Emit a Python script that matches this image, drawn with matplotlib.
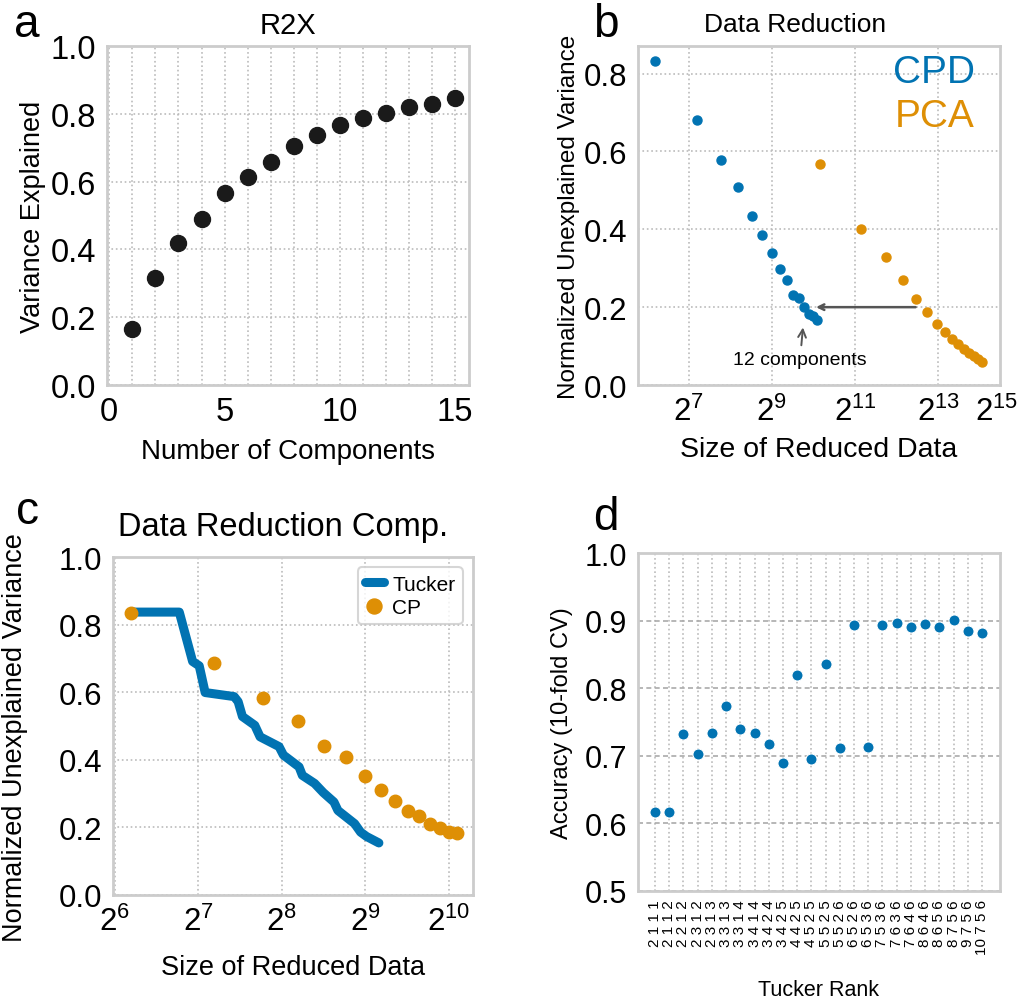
import matplotlib
matplotlib.use('Agg')
import matplotlib.pyplot as plt
import numpy as np

plt.rcParams['font.family'] = ['Liberation Sans', 'DejaVu Sans']
plt.rcParams['mathtext.fontset'] = 'custom'
plt.rcParams['mathtext.rm'] = 'Liberation Sans'
plt.rcParams['mathtext.it'] = 'Liberation Sans:italic'

BLUE = '#0173b2'
ORANGE = '#de8f05'
FRAME = '#cccccc'
GRID = '#bbbbbb'

# panel a: R2X
n_components = list(range(1, 16))
r2x = [0.166, 0.315, 0.419, 0.489, 0.565, 0.614, 0.659, 0.705,
       0.738, 0.767, 0.789, 0.801, 0.819, 0.828, 0.846]

# panel b: data reduction
cpd_size = [73, 146, 219, 292, 365, 438, 511, 584, 657, 730, 803, 876, 949, 1022, 1095]
cpd_unexp = [0.832, 0.682, 0.579, 0.509, 0.433, 0.385, 0.338, 0.298,
             0.269, 0.231, 0.224, 0.200, 0.183, 0.178, 0.166]
pca_size = [1142, 2284, 3426, 4568, 5710, 6852, 7994, 9136,
            10278, 11420, 12562, 13704, 14846, 15988, 17130]
pca_unexp = [0.568, 0.402, 0.329, 0.270, 0.221, 0.188, 0.158, 0.136,
             0.118, 0.106, 0.093, 0.083, 0.075, 0.066, 0.058]

# panel c: tucker vs cp
tucker_size = [73.3, 109.4, 122.2, 129.1, 135.6, 172.5, 178.3, 184.8, 204.7, 213.9,
               250.4, 259.6, 295.6, 303.8, 336.4, 361.5, 394.9, 408.2, 429.0,
               468.8, 492.6, 517.8, 573.4]
tucker_unexp = [0.837, 0.837, 0.691, 0.678, 0.599, 0.587, 0.572, 0.528, 0.502, 0.468,
                0.439, 0.414, 0.379, 0.354, 0.330, 0.303, 0.275, 0.250, 0.236,
                0.211, 0.186, 0.173, 0.154]
cp_size = [73, 146, 219, 292, 365, 438, 511, 584, 657, 730, 803, 876, 949, 1022, 1095]
cp_unexp = [0.835, 0.686, 0.583, 0.514, 0.440, 0.407, 0.352, 0.310,
            0.277, 0.248, 0.235, 0.209, 0.198, 0.186, 0.183]

# panel d: tucker rank accuracy
tucker_ranks = ['2 1 1 1', '2 1 1 2', '2 2 1 2', '2 3 1 2', '2 3 1 3', '3 3 1 3',
                '3 3 1 4', '3 4 1 4', '3 4 2 4', '3 4 2 5', '4 4 2 5', '4 5 2 5',
                '5 5 2 5', '5 5 2 6', '6 5 2 6', '6 5 3 6', '7 5 3 6', '7 6 3 6',
                '7 6 4 6', '8 6 4 6', '8 6 5 6', '8 7 5 6', '9 7 5 6', '10 7 5 6']
accuracy = [0.617, 0.617, 0.732, 0.702, 0.734, 0.773, 0.740, 0.733, 0.717, 0.690,
            0.819, 0.696, 0.836, 0.711, 0.894, 0.713, 0.894, 0.896, 0.890, 0.895,
            0.890, 0.901, 0.884, 0.882]

W, H = 1020, 1004
fig = plt.figure(figsize=(W / 100, H / 100), dpi=100)


def box(l, r, t, b):
    return [l / W, 1 - b / H, (r - l) / W, (b - t) / H]


def style(ax, size=22.5):
    for s in ax.spines.values():
        s.set_color(FRAME)
        s.set_linewidth(2)
    ax.tick_params(length=0, labelsize=size, pad=8)
    ax.set_axisbelow(True)


def p2(e):
    return r'$\mathregular{2^{%d}}$' % e


fmt = matplotlib.ticker.FormatStrFormatter('%.1f')

# ---- a
ax = fig.add_axes(box(107, 469, 47, 386))
style(ax, 23.5)
ax.plot(n_components, r2x, 'o', color='#1a1a1a', ms=11.5)
ax.set_xlim(-0.1, 15.6)
ax.set_ylim(0, 1)
ax.set_xticks([0, 5, 10, 15])
ax.set_xticks(range(1, 16), minor=True)
ax.tick_params(which='minor', length=0)
ax.set_yticks(np.arange(0, 1.01, 0.2))
ax.yaxis.set_major_formatter(fmt)
ax.grid(True, which='both', axis='x', linestyle=':', color=GRID, lw=1.2)
ax.grid(True, axis='y', linestyle=':', color=GRID, lw=1.2)
ax.set_title('R2X', fontsize=21, pad=9)
ax.set_xlabel('Number of Components', fontsize=20, labelpad=8)
ax.set_ylabel('Variance Explained', fontsize=19.5, labelpad=3)

# ---- b
ax = fig.add_axes(box(638, 1000, 47, 386))
style(ax)
ax.set_xscale('log', base=2)
ax.plot(cpd_size, cpd_unexp, 'o', color=BLUE, ms=6.5)
ax.plot(pca_size, pca_unexp, 'o', color=ORANGE, ms=6.5)
ax.set_xlim(2 ** 5.78, 2 ** 14.49)
ax.set_ylim(0, 0.871)
ax.set_xticks([2 ** 7, 2 ** 9, 2 ** 11, 2 ** 13, 2 ** 14.41])
ax.set_xticklabels([p2(7), p2(9), p2(11), p2(13), p2(15)])
ax.xaxis.set_minor_locator(matplotlib.ticker.NullLocator())
ax.set_yticks(np.arange(0, 0.81, 0.2))
ax.yaxis.set_major_formatter(fmt)
ax.grid(True, linestyle=':', color=GRID, lw=1.2)
ax.xaxis.get_gridlines()[-1].set_visible(False)
ax.set_title('Data Reduction', fontsize=19, pad=11, x=0.434)
ax.set_xlabel('Size of Reduced Data', fontsize=20.5, labelpad=6)
ax.set_ylabel('Normalized Unexplained Variance', fontsize=17.5, labelpad=2)
ax.text(0.93, 0.923, 'CPD', color=BLUE, fontsize=28, ha='right', va='center',
        transform=ax.transAxes)
ax.text(0.93, 0.793, 'PCA', color=ORANGE, fontsize=28, ha='right', va='center',
        transform=ax.transAxes)
ax.annotate('', xy=(1021, 0.2), xytext=(5900, 0.2),
            arrowprops=dict(arrowstyle='->', color='#555555', lw=1.8))
ax.annotate('12 components', xy=(864, 0.155), xytext=(820, 0.066),
            ha='center', va='center', fontsize=14,
            arrowprops=dict(arrowstyle='->', color='#555555', lw=1.4))

# ---- c
ax = fig.add_axes(box(113, 473, 558, 896))
style(ax)
ax.set_xscale('log', base=2)
ax.plot(tucker_size, tucker_unexp, '-', color=BLUE, lw=6.5, label='Tucker',
        solid_joinstyle='round', solid_capstyle='round')
ax.plot(cp_size, cp_unexp, 'o', color=ORANGE, ms=9, label='CP')
ax.set_xlim(2 ** 5.98, 2 ** 10.29)
ax.set_ylim(0, 1)
ax.set_xticks([2 ** k for k in range(6, 11)])
ax.set_xticklabels([p2(k) for k in range(6, 11)])
ax.xaxis.set_minor_locator(matplotlib.ticker.NullLocator())
ax.set_yticks(np.arange(0, 1.01, 0.2))
ax.yaxis.set_major_formatter(fmt)
ax.grid(True, linestyle=':', color=GRID, lw=1.2)
ax.set_title('Data Reduction Comp.', fontsize=23.5, pad=16, x=0.472)
ax.set_xlabel('Size of Reduced Data', fontsize=19.5, labelpad=12)
ax.set_ylabel('Normalized Unexplained Variance', fontsize=19.5)
ax.yaxis.set_label_coords(-0.235, 0.47)
leg = ax.legend(loc='upper right', fontsize=15, handlelength=0.9, handletextpad=0.4,
                borderpad=0.35, labelspacing=0.2, borderaxespad=0.5, fancybox=True,
                markerscale=1.2)
leg.get_frame().set_edgecolor(FRAME)
leg.get_frame().set_linewidth(1.5)

# ---- d
ax = fig.add_axes(box(638, 1000, 554, 892))
style(ax, 22)
xpos = np.arange(len(tucker_ranks))
ax.plot(xpos, accuracy, 'o', color=BLUE, ms=8, mec='white', mew=0.8)
ax.set_xlim(-1.2, 24.27)
ax.set_ylim(0.5, 1.0)
ax.set_xticks(xpos)
ax.set_xticklabels(tucker_ranks, rotation=90, fontsize=11)
ax.tick_params(axis='x', pad=6)
ax.set_yticks(np.arange(0.5, 1.01, 0.1))
ax.yaxis.set_major_formatter(fmt)
ax.grid(True, axis='x', linestyle=':', color=GRID, lw=1.2)
ax.grid(True, axis='y', linestyle=(0, (3, 2)), color='#aaaaaa', lw=1.2)
ax.set_xlabel('Tucker Rank', fontsize=15.5, labelpad=18)
ax.set_ylabel('Accuracy (10-fold CV)', fontsize=17, labelpad=8)

# panel letters
for s, x, y in [('a', 14, 37), ('b', 593, 37), ('c', 16, 524), ('d', 593, 530)]:
    fig.text(x / W, 1 - y / H, s, fontsize=33, ha='left', va='baseline')

fig.savefig('out.png', dpi=100)
